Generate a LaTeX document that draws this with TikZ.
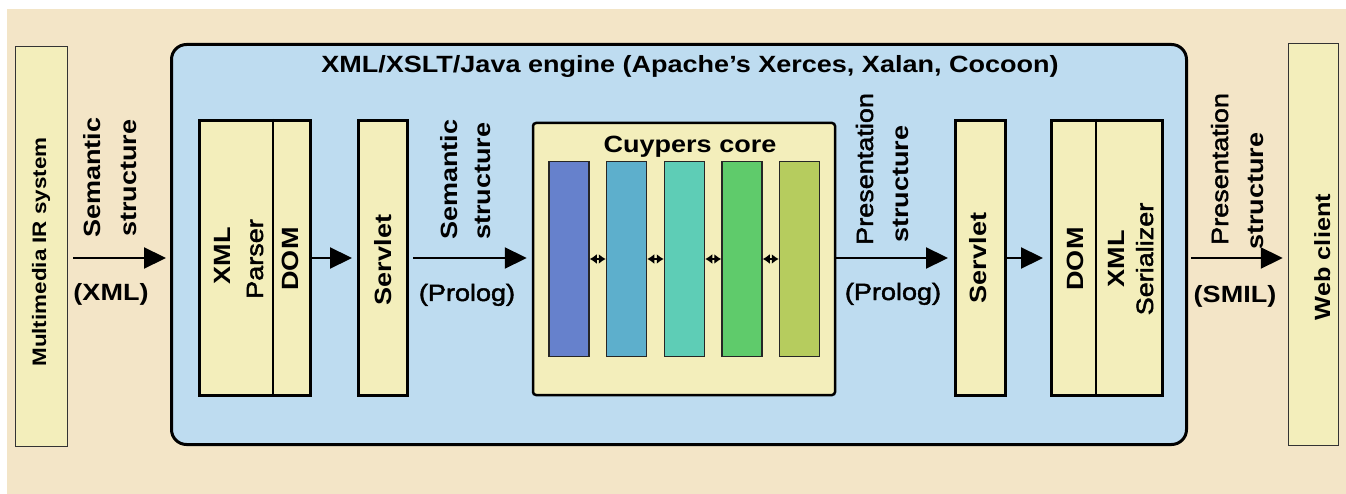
\documentclass[tikz,border=0pt]{standalone}
\usepackage{fontspec}
\setmainfont{Liberation Sans}[FakeStretch=1.15]
\newfontfamily\medf{Liberation Sans}[FakeStretch=1.15, FakeBold=2]
\usetikzlibrary{arrows.meta}
\definecolor{bgc}{RGB}{243,229,199}
\definecolor{engc}{RGB}{190,220,240}
\definecolor{boxc}{RGB}{243,238,187}
\definecolor{barA}{RGB}{102,129,204}
\definecolor{barB}{RGB}{93,175,204}
\definecolor{barC}{RGB}{94,205,182}
\definecolor{barD}{RGB}{95,203,107}
\definecolor{barE}{RGB}{182,204,94}
\begin{document}
\begin{tikzpicture}[x=1pt,y=1pt,
  lab/.style={font=\bfseries\fontsize{23.5}{28}\selectfont, inner sep=0pt},
  reg/.style={font=\medf\fontsize{23.5}{28}\selectfont},
  hlab/.style={lab, anchor=base},
  rlab/.style={lab, rotate=90, anchor=base west},
  clab/.style={lab, rotate=90, anchor=base},
  outerbox/.style={draw=black!80, line width=1.5pt, fill=boxc, inner sep=0pt},
  innerbox/.style={draw=black, line width=3pt, fill=boxc, inner sep=0pt},
  engine/.style={draw=black, line width=3pt, fill=engc, rounded corners=15pt, inner sep=0pt},
  corebox/.style={draw=black, line width=2.5pt, fill=boxc, rounded corners=3pt, inner sep=0pt},
  bar/.style={draw=black!85, line width=1.5pt, inner sep=0pt, minimum width=40pt, minimum height=195pt},
  arr/.style={line width=2.2pt, -{Triangle[length=22pt,width=21pt]}},
  dbl/.style={line width=2pt, {Latex[length=7pt,width=10pt]}-{Latex[length=7pt,width=10pt]}},
  divider/.style={line width=1.5pt}
]
\useasboundingbox (0,0) rectangle (1346,-494);
\fill[white] (0,0) rectangle (1346,-494);
\fill[bgc] (7,-9) rectangle (1346,-494);

% outer boxes
\node[outerbox, minimum width=52pt, minimum height=400pt] (mm) at (41.5,-246.5) {};
\node[outerbox, minimum width=50pt, minimum height=402pt] (web) at (1313.5,-244.5) {};
\node[clab, font=\bfseries\fontsize{19.5}{22}\selectfont] (mmt) at (46,-252) {Multimedia IR system};
\node[clab, font=\bfseries\fontsize{22}{26}\selectfont] (webt) at (1330,-257) {Web client};

% engine
\node[engine, minimum width=1015pt, minimum height=400pt] (eng) at (679,-244.5) {};
\node[hlab] (title) at (690,-73) {XML/XSLT/Java engine (Apache's Xerces, Xalan, Cocoon)};

% parser box
\node[innerbox, minimum width=111pt, minimum height=275pt] (xp) at (255,-258) {};
\draw[divider] (273,0 |- xp.north) -- (273,0 |- xp.south);
\node[clab] (xpa) at (230,-256) {XML};
\node[clab, reg] (xpb) at (263,-259) {Parser};
\node[clab] (xpc) at (298,-259) {DOM};

% servlet 1
\node[innerbox, minimum width=49pt, minimum height=275pt] (sv1) at (383,-258) {};
\node[lab, rotate=90] (sv1t) at (383,-260) {Servlet};

% core
\node[corebox, minimum width=302pt, minimum height=272pt] (core) at (684,-259) {};
\node[hlab] (ctitle) at (690,-153) {Cuypers core};
\node[bar, fill=barA] (b1) at (569,-259) {};
\node[bar, fill=barB] (b2) at (626.5,-259) {};
\node[bar, fill=barC] (b3) at (684.5,-259) {};
\node[bar, fill=barD] (b4) at (742,-259) {};
\node[bar, fill=barE] (b5) at (799.5,-259) {};
\draw[dbl] (b1.east) -- (b2.west);
\draw[dbl] (b2.east) -- (b3.west);
\draw[dbl] (b3.east) -- (b4.west);
\draw[dbl] (b4.east) -- (b5.west);

% servlet 2
\node[innerbox, minimum width=50pt, minimum height=275pt] (sv2) at (980.5,-258) {};
\node[lab, rotate=90] (sv2t) at (978,-258) {Servlet};

% serializer box
\node[innerbox, minimum width=111pt, minimum height=275pt] (ser) at (1107,-258) {};
\draw[divider] (1096,0 |- ser.north) -- (1096,0 |- ser.south);
\node[clab] (sera) at (1083,-259) {DOM};
\node[clab] (serb) at (1124,-259) {XML};
\node[clab, reg] (serc) at (1153,-259) {Serializer};

% arrows
\draw[arr, shorten <=5pt, shorten >=4pt] (mm.east |- xp.center) -- (eng.west |- xp.center);
\draw[arr, shorten >=5pt] (xp.east) -- (sv1.west);
\draw[arr, shorten <=4pt, shorten >=5pt] (sv1.east) -- (core.west |- sv1.center);
\draw[arr, shorten >=6pt] (core.east |- sv2.center) -- (sv2.west);
\draw[arr, shorten >=7pt] (sv2.east) -- (ser.west);
\draw[arr, shorten <=3pt, shorten >=5pt] (eng.east |- ser.center) -- (web.west |- ser.center);

% arrow labels
\node[rlab] (s1a) at (100,-238) {Semantic};
\node[rlab] (s1b) at (136,-237) {structure};
\node[hlab] (s1c) at (111,-300) {(XML)};
\node[rlab] (s2a) at (457,-240) {Semantic};
\node[rlab] (s2b) at (490,-240) {structure};
\node[hlab, reg] (s2c) at (467,-301) {(Prolog)};
\node[rlab, reg] (p1a) at (873,-245) {Presentation};
\node[rlab] (p1b) at (908,-243) {structure};
\node[hlab, reg] (p1c) at (893,-300) {(Prolog)};
\node[rlab, reg] (p2a) at (1228,-245) {Presentation};
\node[rlab] (p2b) at (1263,-250) {structure};
\node[hlab] (p2c) at (1235,-302) {(SMIL)};
\end{tikzpicture}
\end{document}
